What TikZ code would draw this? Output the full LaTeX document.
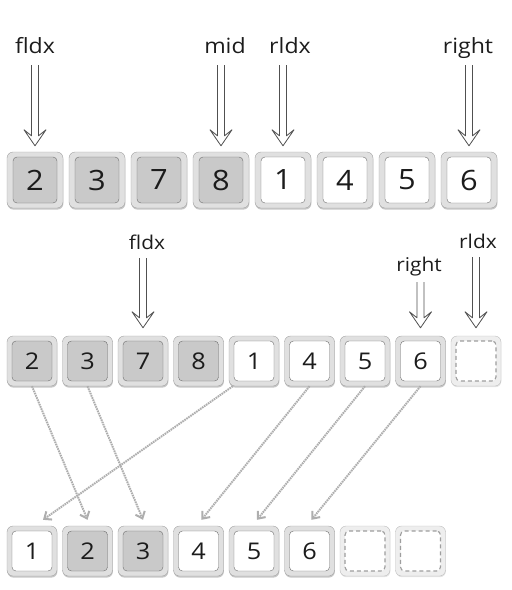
\documentclass[tikz,border=0pt]{standalone}
\usepackage{fontspec}
\newfontfamily\keyfont{Open Sans}[FakeStretch=1.1]
\usetikzlibrary{arrows.meta,shadows,calc}
\definecolor{framefill}{HTML}{E0E0E0}
\definecolor{frameline}{HTML}{A2A2A2}
\definecolor{faceline}{HTML}{6C6C6C}
\definecolor{usedfill}{HTML}{C9C9C9}
\definecolor{holefill}{HTML}{EEEEEE}
\definecolor{holeline}{HTML}{BDBDBD}
\definecolor{holedash}{HTML}{9E9E9E}
\definecolor{ptrline}{HTML}{505050}
\definecolor{moveline}{HTML}{AEAEAE}
\definecolor{ink}{HTML}{1C1C1C}
\tikzset{
  keyframe/.style={draw=frameline, fill=framefill, rounded corners=6pt, minimum size=#1, inner sep=0pt,
    drop shadow={shadow xshift=0.4pt, shadow yshift=-1.6pt, fill=black!50, opacity=.45}},
  holeframe/.style={draw=holeline, fill=holefill, rounded corners=6pt, minimum size=#1, inner sep=0pt,
    drop shadow={shadow xshift=0.4pt, shadow yshift=-1.2pt, fill=black!30, opacity=.35}},
  keyface/.style 2 args={draw=faceline, rounded corners=4pt, minimum width=#1, minimum height=#2, inner sep=0pt, text=ink},
  used/.style={fill=usedfill},
  free/.style={fill=white},
  hole/.style={fill=white, draw=holedash, dash pattern=on 4pt off 3pt, line width=1.1pt},
  bignum/.style={font=\keyfont\fontsize{28}{30}\selectfont},
  smallnum/.style={font=\keyfont\fontsize{23}{25}\selectfont},
  tagbig/.style={font=\keyfont\fontsize{21}{23}\selectfont, text=ink, inner sep=0pt, anchor=base},
  tagsmall/.style={font=\keyfont\fontsize{19}{21}\selectfont, text=ink, inner sep=0pt, anchor=base},
  % hollow double arrow, drawn as an outline
  ptr/.style={draw=ptrline, line width=.8pt, fill=white, line join=round,
    to path={let \p1=(\tikztostart), \p2=(\tikztotarget) in
      (\x1-3.5pt,\y1) -- (\x1-3.5pt,\y2+10pt) -- (\x1-11pt,\y2+16pt) -- (\x1,\y2)
      -- (\x1+11pt,\y2+16pt) -- (\x1+3.5pt,\y2+10pt) -- (\x1+3.5pt,\y1)}},
  move/.style={draw=moveline, line width=2pt, dash pattern=on 1.6pt off 0.8pt, -{Straight Barb[length=6pt,width=10pt]}}
}
\begin{document}
\begin{tikzpicture}[x=1pt,y=-1pt,>=Stealth]
  \useasboundingbox (0,0) rectangle (512,590);
  % first row
  \foreach \v/\k [count=\i] in {2/used,3/used,7/used,8/used,1/free,4/free,5/free,6/free}{
    \node[keyframe=56pt] (ta\i) at ({35+62*(\i-1)},180) {};
    \node[keyface={44pt}{46pt},\k,bignum] (t\i) at (ta\i) {\v};
  }
  \node[tagbig] (pf) at (35,53) {fldx};
  \node[tagbig] (pm) at (225,53) {mid};
  \node[tagbig] (pr) at (290,53) {rldx};
  \node[tagbig] (pg) at (468,53) {right};
  \draw[ptr] ([yshift=-12pt]ta1 |- pf.base) to ([yshift=6pt]ta1.north);
  \draw[ptr] ([yshift=-12pt]ta4 |- pm.base) to ([yshift=6pt]ta4.north);
  \draw[ptr] ([yshift=-12pt]ta5 |- pr.base) to ([yshift=6pt]ta5.north);
  \draw[ptr] ([yshift=-12pt]ta8 |- pg.base) to ([yshift=6pt]ta8.north);
  % second row
  \foreach \v/\k [count=\i] in {2/used,3/used,7/used,8/used,1/free,4/free,5/free,6/free}{
    \node[keyframe=50pt] (ma\i) at ({32+55.5*(\i-1)},361) {};
    \node[keyface={40pt}{40pt},\k,smallnum] (m\i) at (ma\i) {\v};
  }
  \node[holeframe=50pt] (ma9) at (476,361) {};
  \node[keyface={40pt}{40pt},hole] (m9) at (ma9) {};
  \node[tagsmall] (qf) at (147,249) {fldx};
  \node[tagsmall] (qg) at (419,271) {right};
  \node[tagsmall] (qr) at (478,248) {rldx};
  \draw[ptr] ([yshift=-9pt]ma3 |- qf.base) to ([yshift=8pt]ma3.north);
  \draw[ptr] ([yshift=-11pt]ma8 |- qg.base) to ([yshift=8pt]ma8.north);
  \draw[ptr] ([yshift=-9pt]ma9 |- qr.base) to ([yshift=8pt]ma9.north);
  % third row
  \foreach \v/\k [count=\i] in {1/free,2/used,3/used,4/free,5/free,6/free}{
    \node[keyframe=50pt] (ba\i) at ({32+55.5*(\i-1)},551) {};
    \node[keyface={40pt}{40pt},\k,smallnum] (b\i) at (ba\i) {\v};
  }
  \foreach \i in {7,8}{
    \node[holeframe=50pt] (ba\i) at ({32+55.5*(\i-1)},551) {};
    \node[keyface={40pt}{40pt},hole] (b\i) at (ba\i) {};
  }
  % merge moves
  \draw[move] (ma1.south) -- ([yshift=6pt]ba2.north);
  \draw[move] (ma2.south) -- ([yshift=6pt]ba3.north);
  \draw[move] ([xshift=4pt]ma5.south west) -- ([shift={(11pt,6pt)}]ba1.north);
  \draw[move] (ma6.south) -- ([shift={(3pt,6pt)}]ba4.north);
  \draw[move] (ma7.south) -- ([shift={(3pt,6pt)}]ba5.north);
  \draw[move] (ma8.south) -- ([shift={(2pt,6pt)}]ba6.north);
\end{tikzpicture}
\end{document}
